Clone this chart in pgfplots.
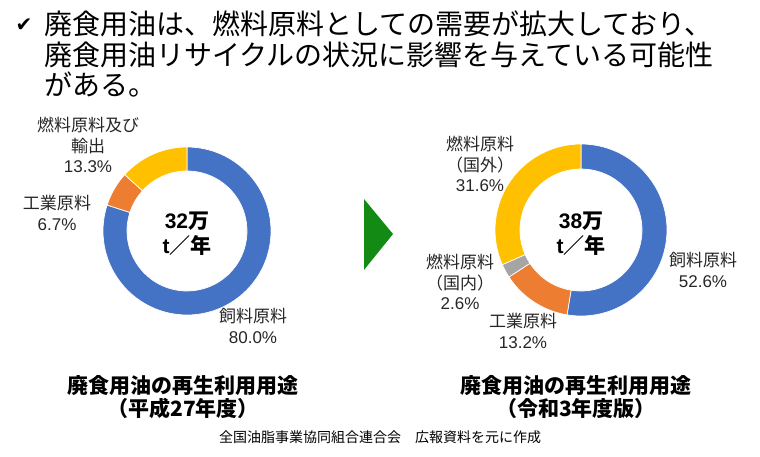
\documentclass[border=0pt]{standalone}
\usepackage{fontspec}
\setmainfont{Noto Sans CJK JP}
\newfontfamily\lat{Liberation Sans}
\newfontfamily\sym{DejaVu Sans}
\usepackage{pgfplots}
\pgfplotsset{compat=1.18}
\usetikzlibrary{calc}
\definecolor{cblue}{HTML}{4472C4}
\definecolor{corange}{HTML}{ED7D31}
\definecolor{cgray}{HTML}{A5A5A5}
\definecolor{cyellow}{HTML}{FFC000}
\definecolor{cgreen}{HTML}{138A13}
\definecolor{ctext}{HTML}{262626}
% donut slice: cx, cy, from %, to %, colour, outer r, inner r
\newcommand{\slice}[7]{%
  \fill[#5,draw=white,line width=0.7pt]
    ($(axis cs:#1,#2)+({90-3.6*(#3)}:#6pt)$)
    arc[start angle={90-3.6*(#3)}, end angle={90-3.6*(#4)}, radius=#6pt]
    -- ($(axis cs:#1,#2)+({90-3.6*(#4)}:#7pt)$)
    arc[start angle={90-3.6*(#4)}, end angle={90-3.6*(#3)}, radius=#7pt]
    -- cycle;}
\begin{document}
\begin{tikzpicture}
\begin{axis}[width=760pt,height=457pt,scale only axis,
  xmin=0,xmax=760,ymin=0,ymax=457,y dir=reverse,hide axis,clip=false]
\path (axis cs:0,0) rectangle (axis cs:760,457);
% title
\node[anchor=center] at (axis cs:24,25) {\fontsize{20}{20}\selectfont\sym ✔};
\node[anchor=west,inner sep=0pt,font=\fontsize{28}{30}\selectfont] at (axis cs:44,24) {廃食用油は、燃料原料としての需要が拡大しており、};
\node[anchor=west,inner sep=0pt,font=\fontsize{28}{30}\selectfont] at (axis cs:44,55) {廃食用油リサイクルの状況に影響を与えている可能性};
\node[anchor=west,inner sep=0pt,font=\fontsize{28}{30}\selectfont] at (axis cs:44,85) {がある。};
% left donut (平成27年度): 飼料原料 80.0, 工業原料 6.7, 燃料原料及び輸出 13.3
\slice{187}{231}{0}{80.0}{cblue}{84}{60}
\slice{187}{231}{80.0}{86.7}{corange}{84}{60}
\slice{187}{231}{86.7}{100}{cyellow}{84}{60}
% right donut (令和3年度版): 飼料原料 52.6, 工業原料 13.2, 燃料原料(国内) 2.6, 燃料原料(国外) 31.6
\slice{581}{230}{0}{52.6}{cblue}{86}{61}
\slice{581}{230}{52.6}{65.8}{corange}{86}{61}
\slice{581}{230}{65.8}{68.4}{cgray}{86}{61}
\slice{581}{230}{68.4}{100}{cyellow}{86}{61}
% arrow
\fill[cgreen] (axis cs:364,199) -- (axis cs:393,234) -- (axis cs:364,270) -- cycle;
% centre texts
\node[align=center,font=\fontsize{21}{25}\selectfont\bfseries] at (axis cs:187,234) {{\lat 32}万\\{\lat t}／年};
\node[align=center,font=\fontsize{21}{25}\selectfont\bfseries] at (axis cs:581,234) {{\lat 38}万\\{\lat t}／年};
% labels
\begin{scope}[every node/.style={align=center,text=ctext,font=\fontsize{17}{20.5}\selectfont}]
\node at (axis cs:88,145) {燃料原料及び\\輸出\\{\lat 13.3\%}};
\node at (axis cs:57,213) {工業原料\\{\lat 6.7\%}};
\node at (axis cs:253,326) {飼料原料\\{\lat 80.0\%}};
\node at (axis cs:480,164) {燃料原料\\（国外）\\{\lat 31.6\%}};
\node at (axis cs:460,282) {燃料原料\\（国内）\\{\lat 2.6\%}};
\node at (axis cs:523,331) {工業原料\\{\lat 13.2\%}};
\node at (axis cs:703,270) {飼料原料\\{\lat 52.6\%}};
\end{scope}
% bottom titles
\node[align=center,font=\fontsize{21}{23.5}\selectfont\bfseries] at (axis cs:183,397) {廃食用油の再生利用用途\\（平成27年度）};
\node[align=center,font=\fontsize{21}{23.5}\selectfont\bfseries] at (axis cs:576,397) {廃食用油の再生利用用途\\（令和3年度版）};
\node[font=\fontsize{14}{16}\selectfont] at (axis cs:380,437) {全国油脂事業協同組合連合会　広報資料を元に作成};
\end{axis}
\end{tikzpicture}
\end{document}
